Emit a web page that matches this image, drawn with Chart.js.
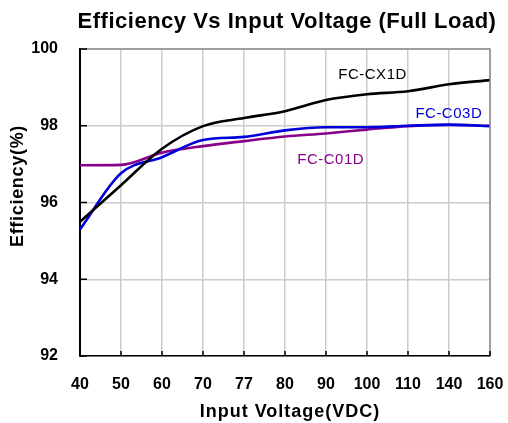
<!DOCTYPE html>
<html><head><meta charset="utf-8">
<script src="https://cdn.jsdelivr.net/npm/chart.js@4/dist/chart.umd.min.js"></script>
<style>html,body{margin:0;padding:0;background:#fff}#wrap{width:508px;height:423px}</style>
</head><body><div id="wrap"><canvas id="c" width="508" height="423"></canvas></div>
<script>
const voltages = ['40','50','60','70','77','80','90','100','110','140','160'];
const cx1d = [95.5, 96.45, 97.4, 97.99, 98.2, 98.38, 98.67, 98.82, 98.9, 99.08, 99.19];
const c03d = [95.3, 96.76, 97.18, 97.63, 97.71, 97.88, 97.96, 97.96, 98.0, 98.03, 97.99];
const c01d = [96.97, 96.98, 97.3, 97.47, 97.6, 97.72, 97.8, 97.9, 97.99, 98.02, 98.0];
const yTicks = [92, 94, 96, 98, 100];
const seriesNames = ['FC-CX1D', 'FC-C03D', 'FC-C01D'];
const titleText = 'Efficiency Vs Input Voltage (Full Load)';
const xTitle = 'Input Voltage(VDC)';
const yTitle = 'Efficiency(%)';

const FONT = '"Liberation Sans", Arial, sans-serif';

function setLS(ctx, v) { try { ctx.letterSpacing = v; } catch (e) {} }

const extras = {
  id: 'extras',
  afterDatasetsDraw(chart) {
    const ctx = chart.ctx, a = chart.chartArea, xs = chart.scales.x, ys = chart.scales.y;
    ctx.save();
    // frame top/right
    ctx.strokeStyle = '#8c8c8c'; ctx.lineWidth = 1.5;
    ctx.beginPath(); ctx.moveTo(a.left, a.top); ctx.lineTo(a.right, a.top); ctx.lineTo(a.right, a.bottom); ctx.stroke();
    // inward ticks
    ctx.strokeStyle = '#000'; ctx.lineWidth = 1.5;
    ctx.beginPath();
    xs.ticks.forEach((t, i) => { const x = xs.getPixelForTick(i); ctx.moveTo(x, a.bottom); ctx.lineTo(x, a.bottom - 5); });
    ys.ticks.forEach((t, i) => { const y = ys.getPixelForTick(i); ctx.moveTo(a.left, y); ctx.lineTo(a.left + 7, y); });
    ctx.stroke();
    // series labels
    ctx.font = '15px ' + FONT;
    setLS(ctx, '0.5px');
    ctx.textBaseline = 'middle'; ctx.textAlign = 'left';
    const labs = [[seriesNames[0], 6.3, 99.32, '#000000'], [seriesNames[1], 8.18, 98.32, '#0000dd'], [seriesNames[2], 5.3, 97.1, '#880088']];
    labs.forEach(([t, xi, v, col]) => { ctx.fillStyle = col; ctx.fillText(t, xs.getPixelForValue(xi), ys.getPixelForValue(v)); });
    // title
    ctx.fillStyle = '#000'; ctx.textAlign = 'center';
    ctx.font = 'bold 22px ' + FONT;
    setLS(ctx, '0.5px');
    ctx.fillText(titleText, (a.left + a.right) / 2 + 2, 22);
    // x title
    ctx.font = 'bold 18px ' + FONT;
    setLS(ctx, '1px');
    ctx.fillText(xTitle, (a.left + a.right) / 2 + 5, 412);
    // y title
    ctx.save();
    ctx.translate(18, 186);
    ctx.rotate(-Math.PI / 2);
    setLS(ctx, '0.7px');
    ctx.fillText(yTitle, 0, 0);
    ctx.restore();
    ctx.restore();
  }
};

new Chart(document.getElementById('c'), {
  type: 'line',
  data: {
    labels: voltages,
    datasets: [
      { label: seriesNames[2], data: c01d, borderColor: '#880088', order: 3 },
      { label: seriesNames[1], data: c03d, borderColor: '#0000dd', order: 2 },
      { label: seriesNames[0], data: cx1d, borderColor: '#000000', order: 1 }
    ]
  },
  options: {
    responsive: false, animation: false,
    layout: { padding: { top: 49, right: 18, left: 0, bottom: 0 } },
    elements: { point: { radius: 0 }, line: { borderWidth: 2.6, tension: 0.4, cubicInterpolationMode: 'monotone' } },
    plugins: { legend: { display: false }, title: { display: false }, tooltip: { enabled: false } },
    scales: {
      x: {
        type: 'category', offset: false,
        afterFit(s) { s.height = 67; s.paddingLeft = 0; s.paddingRight = 0; },
        grid: { color: '#cccccc', lineWidth: 1.5, drawTicks: false },
        border: { color: '#000', width: 1.5 },
        ticks: { color: '#000', font: { family: FONT, size: 16, weight: 'bold' }, padding: 19, maxRotation: 0, autoSkip: false }
      },
      y: {
        min: yTicks[0], max: yTicks[yTicks.length - 1],
        afterFit(s) { s.width = 80; s.paddingTop = 0; s.paddingBottom = 0; },
        afterBuildTicks(s) { s.ticks = yTicks.map(v => ({ value: v })); },
        grid: { color: '#cccccc', lineWidth: 1.5, drawTicks: false },
        border: { color: '#000', width: 2 },
        ticks: { color: '#000', font: { family: FONT, size: 16, weight: 'bold' }, padding: 22 }
      }
    }
  },
  plugins: [extras]
});
</script></body></html>
